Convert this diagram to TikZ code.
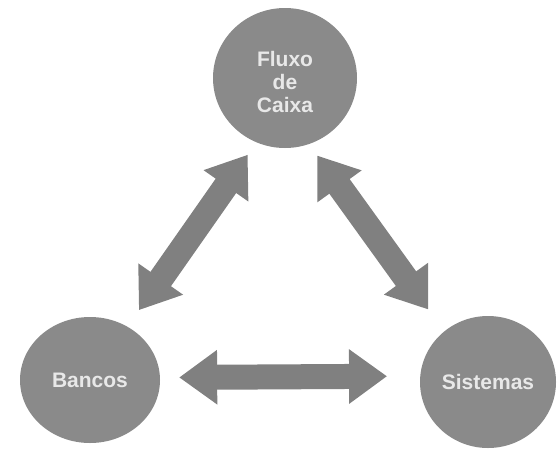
\documentclass[tikz,border=0pt]{standalone}
\usepackage{fontspec}
\setmainfont{Liberation Sans}
\usetikzlibrary{shapes.geometric,arrows.meta}
\definecolor{circgray}{HTML}{8A8A8A}
\definecolor{arrgray}{HTML}{808080}
\definecolor{txtgray}{HTML}{E8E8E8}
\tikzset{
  bubble/.style={ellipse, fill=circgray, inner sep=0pt, text=txtgray,
    font=\bfseries\fontsize{21}{23}\selectfont, align=center},
  bigarrow/.style={draw=arrgray, line width=25pt,
    {Triangle[width=52pt,length=38pt,fill=arrgray]}-{Triangle[width=52pt,length=38pt,fill=arrgray]}}
}
\begin{document}
\begin{tikzpicture}[x=1pt,y=-1pt]
\useasboundingbox (0,0) rectangle (559,450);
\node[bubble, minimum width=144pt, minimum height=140pt] (fc) at (285,78)
  {\raisebox{-12pt}[0pt][0pt]{\begin{tabular}{@{}c@{}}Fluxo\\de\\Caixa\end{tabular}}};
\node[bubble, minimum width=140pt, minimum height=126pt] (b) at (90,380) {Bancos};
\node[bubble, minimum width=136pt, minimum height=132pt] (s) at (488,382) {Sistemas};
\draw[bigarrow, shorten <=15pt, shorten >=20pt] (fc.246.4) -- (b.55.9);
\draw[bigarrow, shorten <=14pt, shorten >=27pt] (fc.290.8) -- (s.131.6);
\draw[bigarrow, shorten <=19pt, shorten >=33pt] (b.2.7) -- (s.175);
\end{tikzpicture}
\end{document}
